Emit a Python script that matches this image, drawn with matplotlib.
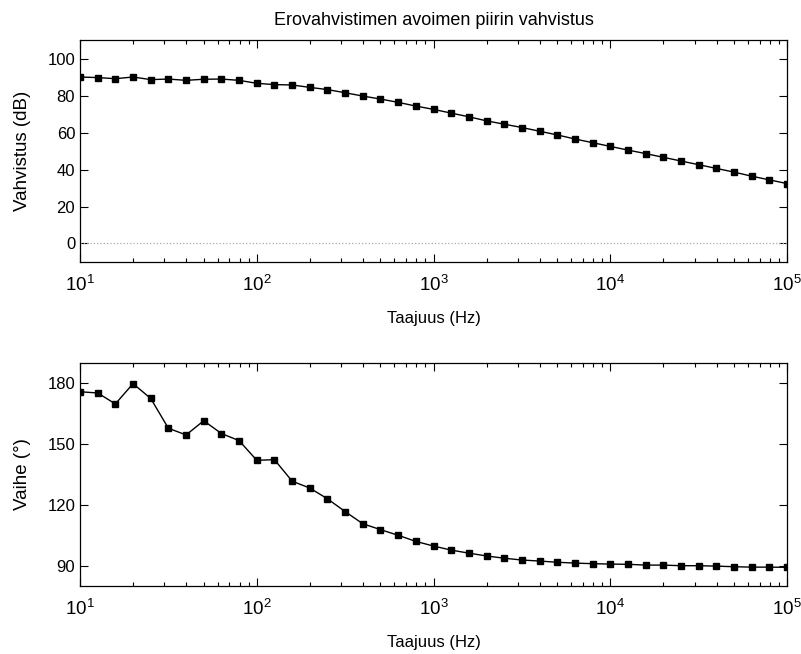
import numpy as np
import matplotlib
matplotlib.use("Agg")
import matplotlib.pyplot as plt

plt.rcParams['font.family'] = ['Liberation Sans', 'DejaVu Sans']
plt.rcParams['mathtext.fontset'] = 'custom'
plt.rcParams['mathtext.rm'] = 'Liberation Sans'
plt.rcParams['mathtext.it'] = 'Liberation Sans'

# taajuudet: 10 pistettä dekadia kohden, 10 Hz ... 100 kHz
decades = [1, 2, 3, 4, 5]
points_per_decade = 10
freq = np.logspace(decades[0], decades[-1], (decades[-1] - decades[0]) * points_per_decade + 1)

gain_db = [90.0, 89.7, 89.1, 90.0, 88.6, 88.9, 88.2, 88.8, 88.9, 88.2,
           86.6, 85.9, 85.7, 84.4, 83.2, 81.5, 79.7, 78.1, 76.3, 74.3,
           72.5, 70.5, 68.5, 66.3, 64.5, 62.7, 60.7, 58.7, 56.5, 54.5,
           52.5, 50.5, 48.6, 46.6, 44.6, 42.6, 40.6, 38.6, 36.4, 34.4,
           32.4]

phase_deg = [175.8, 175.2, 169.8, 179.8, 172.5, 157.8, 154.5, 161.5, 155.2, 151.7,
             142.0, 142.3, 131.7, 128.3, 123.0, 116.7, 110.7, 107.8, 105.0, 102.0,
             99.7, 97.7, 96.2, 94.8, 93.7, 92.8, 92.3, 91.7, 91.3, 91.0,
             90.8, 90.7, 90.3, 90.3, 90.0, 90.0, 89.8, 89.5, 89.3, 89.3,
             89.2]

gain_ticks = [0, 20, 40, 60, 80, 100]
phase_ticks = [90, 120, 150, 180]
x_ticks = [10**d for d in decades]
x_ticklabels = [r'$10^{%d}$' % d for d in decades]

fig = plt.figure(figsize=(8.01, 6.54), dpi=100)
ax1 = fig.add_axes([0.0999, 0.5994, 0.8826, 0.3394])
ax2 = fig.add_axes([0.0999, 0.1040, 0.8826, 0.3410])

def style_axis(ax):
    ax.set_xscale('log')
    ax.set_xlim(10**decades[0], 10**decades[-1])
    ax.set_xticks(x_ticks)
    ax.set_xticklabels(x_ticklabels)
    ax.tick_params(which='both', direction='in', top=True, right=True, labelsize=12)
    ax.tick_params(which='major', length=6, width=0.8)
    ax.tick_params(which='minor', length=3, width=0.8)
    ax.tick_params(axis='x', which='major', pad=9, labelsize=13.5)
    for s in ax.spines.values():
        s.set_linewidth(0.9)
    ax.set_xlabel('Taajuus (Hz)', fontsize=12, labelpad=12)

ax1.axhline(0, color='#aaaaaa', lw=0.9, ls=':')
ax1.plot(freq, gain_db, color='black', lw=1.0, marker='s', ms=5)
style_axis(ax1)
ax1.set_ylim(-10, 110)
ax1.set_yticks(gain_ticks)
ax1.set_ylabel('Vahvistus (dB)', fontsize=13.5, labelpad=12)
ax1.set_title('Erovahvistimen avoimen piirin vahvistus', fontsize=13, pad=11)

ax2.plot(freq, phase_deg, color='black', lw=1.0, marker='s', ms=5)
style_axis(ax2)
ax2.set_ylim(80, 190)
ax2.set_yticks(phase_ticks)
ax2.set_ylabel('Vaihe (°)', fontsize=13.5, labelpad=12)

fig.savefig('out.png', dpi=100)
